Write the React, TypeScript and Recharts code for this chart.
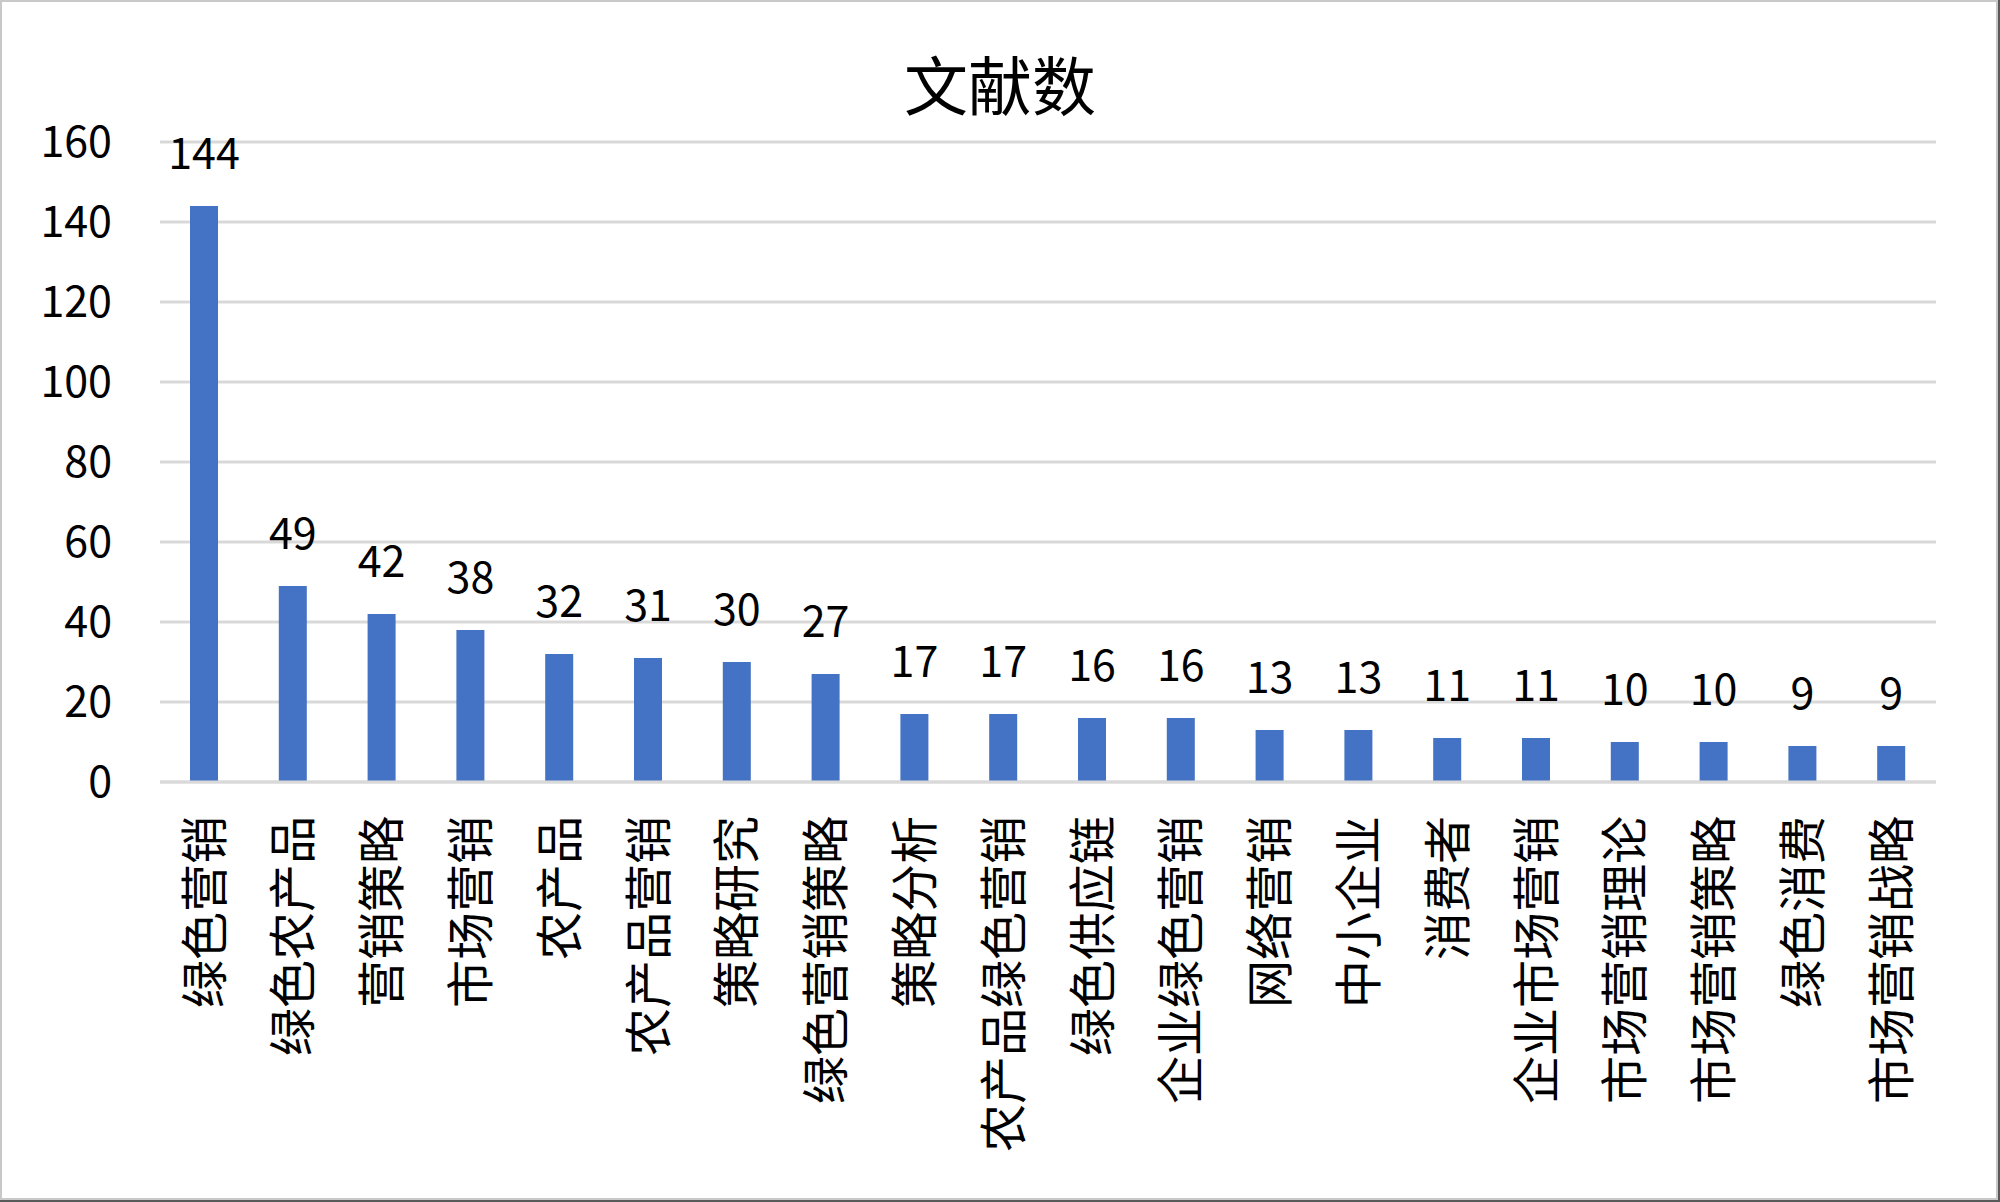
import { Bar, BarChart, CartesianGrid, LabelList, XAxis, YAxis } from "recharts";

const categories = [
  "绿色营销", "绿色农产品", "营销策略", "市场营销", "农产品",
  "农产品营销", "策略研究", "绿色营销策略", "策略分析", "农产品绿色营销",
  "绿色供应链", "企业绿色营销", "网络营销", "中小企业", "消费者",
  "企业市场营销", "市场营销理论", "市场营销策略", "绿色消费", "市场营销战略",
];
const counts = [144, 49, 42, 38, 32, 31, 30, 27, 17, 17, 16, 16, 13, 13, 11, 11, 10, 10, 9, 9];
const yTicks = [0, 20, 40, 60, 80, 100, 120, 140, 160];

const data = categories.map((name, i) => ({ name, value: counts[i] }));

const FONT = '"Noto Sans CJK SC", "Noto Sans", sans-serif';

function CategoryTick(props: any) {
  const { x, y, payload } = props;
  const ty = y + 34;
  return (
    <text
      x={x}
      y={ty}
      dy="0.36em"
      textAnchor="end"
      transform={`rotate(-90, ${x}, ${ty})`}
      fontSize={48}
      fontFamily={FONT}
      fill="#000"
    >
      {payload.value}
    </text>
  );
}

export default function App() {
  return (
    <div style={{ position: "absolute", left: 0, top: 0, width: 2000, height: 1202, background: "#fff" }}>
      <BarChart
        width={2000}
        height={1202}
        data={data}
        margin={{ top: 142, right: 64, bottom: 20, left: 0 }}
        barCategoryGap={0}
      >
        <CartesianGrid vertical={false} stroke="#d9d9d9" strokeWidth={3} />
        <XAxis
          dataKey="name"
          interval={0}
          height={400}
          axisLine={{ stroke: "#d9d9d9", strokeWidth: 3 }}
          tickLine={false}
          tickSize={0}
          tickMargin={0}
          tick={<CategoryTick />}
        />
        <YAxis
          width={160}
          domain={[0, 160]}
          ticks={yTicks}
          axisLine={false}
          tickLine={false}
          tickSize={0}
          tickMargin={48}
          tick={{ fontSize: 43, fontFamily: FONT, fill: "#000" }}
        />
        <Bar dataKey="value" fill="#4472C4" barSize={28} isAnimationActive={false}>
          <LabelList dataKey="value" position="top" offset={37} fontSize={43} fontFamily={FONT} fill="#000" />
        </Bar>
      </BarChart>
      <svg
        width={2000}
        height={1202}
        style={{ position: "absolute", left: 0, top: 0, pointerEvents: "none" }}
      >
        <text x={1000} y={110} textAnchor="middle" fontSize={64} fontFamily={FONT} fill="#000">
          文献数
        </text>
        <rect x={1} y={1} width={1996} height={1198} fill="none" stroke="#c8c8c8" strokeWidth={2} />
        <line x1={0} y1={1201} x2={2000} y2={1201} stroke="#595959" strokeWidth={2} />
        <line x1={1999} y1={0} x2={1999} y2={1202} stroke="#595959" strokeWidth={2} />
      </svg>
    </div>
  );
}
